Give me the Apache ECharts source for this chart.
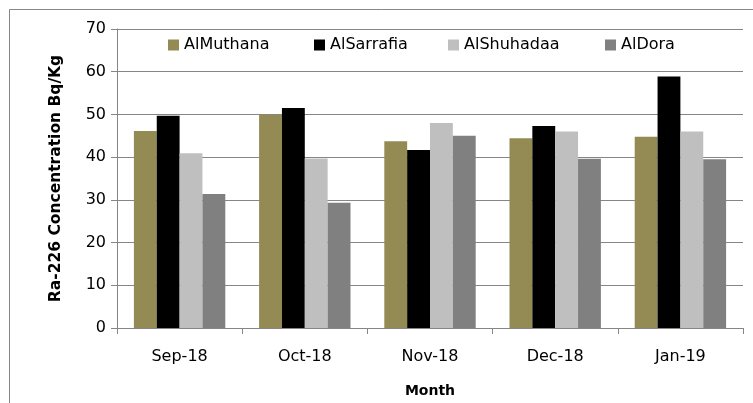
<!DOCTYPE html>
<html>
<head>
<meta charset="utf-8">
<script src="https://cdn.jsdelivr.net/npm/echarts@6/dist/echarts.min.js"></script>
<style>html,body{margin:0;padding:0;background:#fff}#c{width:753px;height:403px}</style>
</head>
<body>
<div id="c"></div>
<script>
var categories = ['Sep-18', 'Oct-18', 'Nov-18', 'Dec-18', 'Jan-19'];
var seriesNames = ['AlMuthana', 'AlSarrafia', 'AlShuhadaa', 'AlDora'];
var alMuthana = [46.1, 49.9, 43.7, 44.4, 44.8];
var alSarrafia = [49.7, 51.5, 41.7, 47.3, 58.9];
var alShuhadaa = [40.9, 39.7, 48.0, 46.0, 46.0];
var alDora = [31.4, 29.3, 45.0, 39.6, 39.5];
var yTicks = [0, 10, 20, 30, 40, 50, 60, 70];

var colors = ['#948A54', '#000000', '#BFBFBF', '#808080'];
var values = [alMuthana, alSarrafia, alShuhadaa, alDora];
var legendLeft = [168, 314, 448, 605];
var font = 'DejaVu Sans';
var axisColor = '#868686';

var chart = echarts.init(document.getElementById('c'), null, {renderer: 'canvas'});
chart.setOption({
  animation: false,
  backgroundColor: '#fff',
  textStyle: {fontFamily: font},
  graphic: [{
    type: 'rect', silent: true, z: -1,
    shape: {x: 9.5, y: 9.5, width: 800, height: 500},
    style: {fill: 'none', stroke: '#878787', lineWidth: 1}
  }],
  legend: seriesNames.map(function (n, i) {
    return {
      data: [n], left: legendLeft[i], top: 37,
      itemWidth: 11, itemHeight: 11, padding: 0,
      icon: 'rect',
      textStyle: {fontFamily: font, fontSize: 16, color: '#000'}
    };
  }),
  grid: {left: 117, right: 10, top: 29, bottom: 74},
  xAxis: {
    type: 'category',
    data: categories,
    name: 'Month',
    nameLocation: 'middle',
    nameGap: 56,
    nameTextStyle: {fontFamily: font, fontSize: 14, fontWeight: 'bold', color: '#000'},
    axisLine: {lineStyle: {color: axisColor, width: 1}},
    axisTick: {show: true, length: 6, lineStyle: {color: axisColor}},
    axisLabel: {fontFamily: font, fontSize: 16, color: '#000', margin: 21},
    splitLine: {show: false}
  },
  yAxis: {
    type: 'value',
    min: yTicks[0],
    max: yTicks[yTicks.length - 1],
    interval: yTicks[1] - yTicks[0],
    name: 'Ra-226 Concentration Bq/Kg',
    nameLocation: 'middle',
    nameGap: 53,
    nameTextStyle: {fontFamily: font, fontSize: 15.5, fontWeight: 'bold', color: '#000'},
    axisLine: {show: true, lineStyle: {color: axisColor, width: 1}},
    axisTick: {show: true, length: 6, lineStyle: {color: axisColor}},
    axisLabel: {fontFamily: font, fontSize: 16, color: '#000', margin: 11},
    splitLine: {show: true, lineStyle: {color: axisColor, width: 1}}
  },
  series: seriesNames.map(function (n, i) {
    return {
      name: n,
      type: 'bar',
      data: values[i],
      barGap: '0%',
      barCategoryGap: '27%',
      itemStyle: {color: colors[i]}
    };
  })
});
</script>
</body>
</html>
